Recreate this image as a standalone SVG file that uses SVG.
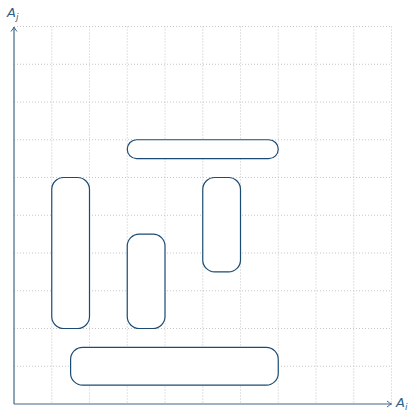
<svg xmlns="http://www.w3.org/2000/svg" width="411" height="411" viewBox="0 0 411 411">
<defs>
<style>
.grid line{stroke:#b8b8b8;stroke-width:0.8;stroke-dasharray:1 2}
.axis{stroke:#3f6787;stroke-width:1.2;fill:none}
.box{fill:#fff;stroke:#1b4b73;stroke-width:1.2}
.lbl{font-family:"DejaVu Sans",sans-serif;font-style:italic;fill:#2f5f86}
</style>
<marker id="arr" viewBox="-6 -4 8 8" markerWidth="8" markerHeight="8" refX="0" refY="0" orient="auto" markerUnits="userSpaceOnUse">
<path d="M-4.5,-3 Q-1.5,-0.6 0,0 Q-1.5,0.6 -4.5,3" fill="none" stroke="#3f6787" stroke-width="1"/>
</marker>
</defs>
<rect width="411" height="411" fill="#fff"/>
<g class="grid">
<line x1="51.75" y1="26.5" x2="51.75" y2="404"/>
<line x1="89.5" y1="26.5" x2="89.5" y2="404"/>
<line x1="127.25" y1="26.5" x2="127.25" y2="404"/>
<line x1="165" y1="26.5" x2="165" y2="404"/>
<line x1="202.75" y1="26.5" x2="202.75" y2="404"/>
<line x1="240.5" y1="26.5" x2="240.5" y2="404"/>
<line x1="278.25" y1="26.5" x2="278.25" y2="404"/>
<line x1="316" y1="26.5" x2="316" y2="404"/>
<line x1="353.75" y1="26.5" x2="353.75" y2="404"/>
<line x1="391.5" y1="26.5" x2="391.5" y2="404"/>
<line x1="14" y1="26.5" x2="391.5" y2="26.5"/>
<line x1="14" y1="64.25" x2="391.5" y2="64.25"/>
<line x1="14" y1="102" x2="391.5" y2="102"/>
<line x1="14" y1="139.75" x2="391.5" y2="139.75"/>
<line x1="14" y1="177.5" x2="391.5" y2="177.5"/>
<line x1="14" y1="215.25" x2="391.5" y2="215.25"/>
<line x1="14" y1="253" x2="391.5" y2="253"/>
<line x1="14" y1="290.75" x2="391.5" y2="290.75"/>
<line x1="14" y1="328.5" x2="391.5" y2="328.5"/>
<line x1="14" y1="366.25" x2="391.5" y2="366.25"/>
</g>
<g id="axes">
<line class="axis" x1="14" y1="404" x2="14" y2="27" marker-end="url(#arr)"/>
<line class="axis" x1="14" y1="404" x2="391.5" y2="404" marker-end="url(#arr)"/>
<text class="lbl" x="7" y="17" font-size="13">A<tspan font-size="9" dy="3">j</tspan></text>
<text class="lbl" x="396" y="407" font-size="13">A<tspan font-size="9" dy="2.5">i</tspan></text>
</g>
<g id="box-tall"><rect class="box" x="51.75" y="177.5" width="37.75" height="151" rx="12" ry="12"/></g>
<g id="box-small"><rect class="box" x="127.25" y="234.1" width="37.75" height="94.4" rx="12" ry="12"/></g>
<g id="box-right"><rect class="box" x="202.75" y="177.5" width="37.75" height="94.4" rx="12" ry="12"/></g>
<g id="box-bar"><rect class="box" x="127.25" y="139.75" width="151" height="18.9" rx="9.45" ry="9.45"/></g>
<g id="box-bottom"><rect class="box" x="70.6" y="347.4" width="207.65" height="37.75" rx="12" ry="12"/></g>
</svg>
